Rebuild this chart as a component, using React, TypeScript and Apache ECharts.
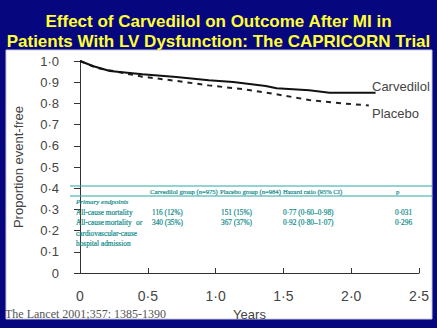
import React, { useEffect, useRef } from "react";
import * as echarts from "echarts";

const titleLines = [
  "Effect of Carvedilol on Outcome After MI in",
  "Patients With LV Dysfunction: The CAPRICORN Trial",
];

const carvedilolX = [0, 0.1, 0.22, 0.46, 0.71, 0.95, 1.13, 1.37, 1.45, 1.69, 1.84, 2.18];
const carvedilolY = [1.0, 0.975, 0.953, 0.937, 0.925, 0.909, 0.901, 0.882, 0.871, 0.862, 0.85, 0.85];

const placeboX = [0, 0.12, 0.46, 0.71, 0.95, 1.2, 1.45, 1.69, 1.94, 2.13];
const placeboY = [1.0, 0.968, 0.926, 0.906, 0.885, 0.867, 0.843, 0.816, 0.8, 0.79];

const seriesNames = ["Carvedilol", "Placebo"];

const tableHeaders = ["Carvedilol group (n=975)", "Placebo group (n=984)", "Hazard ratio (95% CI)", "p"];
const tableSection = "Primary endpoints";
const row1 = ["All-cause mortality", "116 (12%)", "151 (15%)", "0·77 (0·60–0·98)", "0·031"];
const row2 = ["340 (35%)", "367 (37%)", "0·92 (0·80–1·07)", "0·296"];
const row2LabelWords = ["All-cause", "mortality", "or"];
const row2LabelRest = ["cardiovascular-cause", "hospital admission"];

const citation = "The Lancet 2001;357: 1385-1390";

const fmt = (v: number) => (v === 0 ? "0" : v.toFixed(1).replace(".", "·"));

export default function App() {
  const ref = useRef<HTMLDivElement>(null);
  useEffect(() => {
    if (!ref.current) return;
    const chart = echarts.init(ref.current, null, { renderer: "svg" });
    const teal = "#2aa8a8";
    const tealText = "#108a8a";
    const serif = '"Liberation Serif", "Times New Roman", serif';
    const sans = '"Liberation Sans", Arial, sans-serif';
    const colX = [152, 221, 283, 395];
    const txt = (text: string, x: number, y: number, size: number, extra: any = {}) => ({
      type: "text",
      x,
      y,
      z: 10,
      style: {
        text,
        fill: tealText,
        stroke: tealText,
        lineWidth: 0.2,
        font: `${extra.italic ? "italic " : ""}${size}px ${serif}`,
        align: "left",
        verticalAlign: "middle",
      },
    });
    const graphics: any[] = [
      {
        type: "rect",
        z: -10,
        shape: { x: 6, y: 50, width: 426, height: 269 },
        style: { fill: "#ffffff", stroke: "#c8c8d8", lineWidth: 1 },
      },
      { type: "line", z: 10, shape: { x1: 70, y1: 186, x2: 433, y2: 186 }, style: { stroke: teal, lineWidth: 1 } },
      { type: "line", z: 10, shape: { x1: 70, y1: 196, x2: 433, y2: 196 }, style: { stroke: teal, lineWidth: 1 } },
      txt(tableHeaders[0], 150, 191, 6.6),
      txt(tableHeaders[1], 220, 191, 6.6),
      txt(tableHeaders[2], 283, 191, 6.6),
      txt(tableHeaders[3], 396, 191, 6.6),
      txt(tableSection, 76, 202, 7, { italic: true }),
      txt(row1[0], 76, 212.5, 7.3),
      ...row1.slice(1).map((t, i) => txt(t, colX[i], 212.5, 7.3)),
      txt(row2LabelWords[0], 76, 222.5, 7.3),
      txt(row2LabelWords[1], 105, 222.5, 7.3),
      txt(row2LabelWords[2], 136, 222.5, 7.3),
      ...row2.map((t, i) => txt(t, colX[i], 222.5, 7.3)),
      txt(row2LabelRest[0], 76, 233, 7.3),
      txt(row2LabelRest[1], 76, 243, 7.3),
      {
        type: "text",
        x: 372,
        y: 86,
        z: 10,
        style: { text: seriesNames[0], fill: "#444", font: `13px ${sans}`, align: "left", verticalAlign: "middle" },
      },
      {
        type: "text",
        x: 372,
        y: 113,
        z: 10,
        style: { text: seriesNames[1], fill: "#444", font: `13px ${sans}`, align: "left", verticalAlign: "middle" },
      },
      {
        type: "text",
        x: 5,
        y: 314,
        z: 10,
        style: { text: citation, fill: "#555", font: `12px ${serif}`, align: "left", verticalAlign: "middle" },
      },
    ];
    chart.setOption({
      animation: false,
      backgroundColor: "#06067f",
      title: {
        text: titleLines.join("\n"),
        left: "center",
        top: 6,
        textStyle: {
          color: "#ffff33",
          fontSize: 17,
          fontWeight: "bold",
          fontFamily: sans,
          lineHeight: 20,
        },
      },
      grid: { left: 80, right: 18, top: 61, bottom: 55, containLabel: false },
      xAxis: {
        type: "value",
        min: 0,
        max: 2.5,
        interval: 0.5,
        offset: 6,
        name: "Years",
        nameLocation: "middle",
        nameGap: 26,
        nameTextStyle: { color: "#444", fontSize: 13, fontFamily: sans },
        axisLine: { lineStyle: { color: "#333", width: 1 } },
        axisTick: { inside: true, length: 5, lineStyle: { color: "#333" } },
        axisLabel: { formatter: fmt, color: "#444", fontSize: 14, fontFamily: sans, margin: 10 },
        splitLine: { show: false },
      },
      yAxis: {
        type: "value",
        min: 0,
        max: 1,
        interval: 0.1,
        offset: 10,
        name: "Proportion event-free",
        nameLocation: "middle",
        nameGap: 45,
        nameTextStyle: { color: "#444", fontSize: 13, fontFamily: sans },
        axisLine: { show: true, lineStyle: { color: "#333", width: 1 } },
        axisTick: { show: true, length: 6, lineStyle: { color: "#333" } },
        axisLabel: { formatter: fmt, color: "#444", fontSize: 13, fontFamily: sans, margin: 11 },
        splitLine: { show: false },
      },
      series: [
        {
          name: seriesNames[0],
          type: "line",
          data: carvedilolX.map((x, i) => [x, carvedilolY[i]]),
          showSymbol: false,
          lineStyle: { color: "#111", width: 2 },
          z: 3,
        },
        {
          name: seriesNames[1],
          type: "line",
          data: placeboX.map((x, i) => [x, placeboY[i]]),
          showSymbol: false,
          lineStyle: { color: "#222", width: 2, type: [5, 5] },
          z: 2,
        },
      ],
      graphic: graphics,
    });
    return () => chart.dispose();
  }, []);
  return (
    <div
      ref={ref}
      style={{ position: "fixed", left: 0, top: 0, width: 437, height: 328 }}
    />
  );
}
